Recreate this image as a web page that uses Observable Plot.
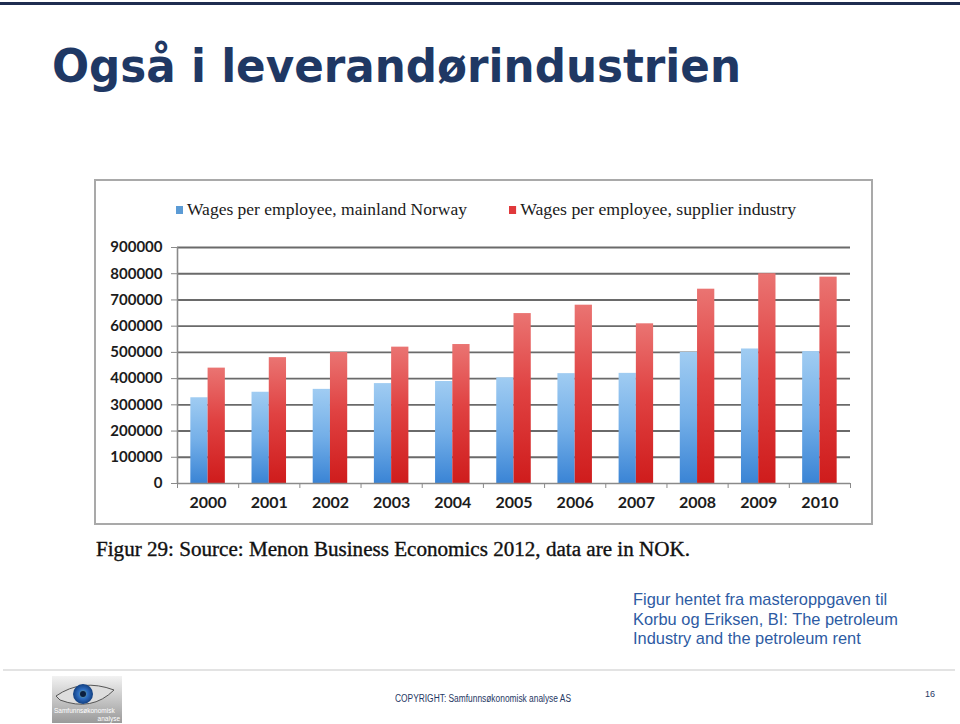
<!DOCTYPE html>
<html>
<head>
<meta charset="utf-8">
<script src="https://cdn.jsdelivr.net/npm/d3@7"></script>
<script src="https://cdn.jsdelivr.net/npm/@observablehq/plot@0.6"></script>
<style>
  html, body { margin: 0; padding: 0; background: #fff; }
  #page { position: relative; width: 960px; height: 724px; overflow: hidden; font-family: "Liberation Sans", Arial, sans-serif; }
  .abs { position: absolute; white-space: nowrap; }
  #topline { left: 0; top: 2px; width: 960px; height: 3px; background: #1f2d50; }
  #title { left: 52px; top: 43px; font-family: "DejaVu Sans", Verdana, sans-serif; font-weight: bold; font-size: 46px; color: #1f3864; transform-origin: 0 0; line-height: 1; }
  #frame { left: 94px; top: 179px; width: 775px; height: 342px; border: 2px solid #a9a9a9; background: #fff; }
  .leg { top: 199px; font-family: "Liberation Serif", "Times New Roman", serif; font-size: 17.5px; color: #1a1a1a; transform-origin: 0 0; }
  .sw { display: inline-block; width: 7px; height: 8px; margin-right: 4px; vertical-align: 1px; }
  #chart { left: 94px; top: 225px; }
  #caption { left: 96px; top: 538px; font-family: "Liberation Serif", "Times New Roman", serif; font-size: 20px; color: #111; transform-origin: 0 0; -webkit-text-stroke: 0.35px #111; }
  #note { left: 633px; top: 590px; font-family: "Liberation Sans", Arial, sans-serif; font-size: 16.4px; line-height: 19.5px; color: #2d5ba3; }
  #footline { left: 3px; top: 669px; width: 952px; height: 2px; background: #e3e3e3; }
  #copy { left: 395px; top: 693px; font-size: 10px; color: #1f3864; transform-origin: 0 0; }
  #pnum { left: 925px; top: 689px; font-size: 9px; color: #1f3864; }
  #logo { left: 52px; top: 676px; }
</style>
</head>
<body>
<div id="page">
  <div id="topline" class="abs"></div>
  <div id="title" class="abs">Også i leverandørindustrien</div>
  <div id="frame" class="abs"></div>
  <div id="leg0" class="abs leg"></div>
  <div id="leg1" class="abs leg"></div>
  <div id="chart" class="abs"></div>
  <div id="caption" class="abs">Figur 29: Source: Menon Business Economics 2012, data are in NOK.</div>
  <div id="note" class="abs">Figur hentet fra masteroppgaven til<br>Korbu og Eriksen, BI: The petroleum<br>Industry and the petroleum rent</div>
  <div id="footline" class="abs"></div>
  <svg id="logo" class="abs" width="70" height="47" viewBox="0 0 70 47">
    <defs>
      <linearGradient id="lg" x1="0" y1="0" x2="0" y2="1">
        <stop offset="0" stop-color="#f2f2f2"/><stop offset="1" stop-color="#9a9a9a"/>
      </linearGradient>
      <radialGradient id="iris"><stop offset="0" stop-color="#9bc35a"/><stop offset="0.45" stop-color="#2f6fc4"/><stop offset="1" stop-color="#123f80"/></radialGradient>
    </defs>
    <rect width="70" height="47" fill="url(#lg)"/>
    <path d="M4 20 Q30 2 62 14 Q40 36 8 24 Z" fill="#ddd" stroke="#555" stroke-width="1"/>
    <circle cx="31" cy="18" r="10" fill="url(#iris)"/>
    <circle cx="31" cy="18" r="3" fill="#0b1f3f"/>
    <text x="2" y="37" font-size="6.5" fill="#fff" font-family="Liberation Sans">Samfunnsøkonomisk</text>
    <text x="68" y="45" font-size="6.5" fill="#fff" text-anchor="end" font-family="Liberation Sans">analyse</text>
  </svg>
  <div id="copy" class="abs">COPYRIGHT: Samfunnsøkonomisk analyse AS</div>
  <div id="pnum" class="abs">16</div>
</div>
<script>
// ---- data ----
const years = [2000, 2001, 2002, 2003, 2004, 2005, 2006, 2007, 2008, 2009, 2010];
const mainlandNorway = [327000, 348000, 359000, 381000, 389000, 403000, 419000, 420000, 500000, 513000, 503000];
const supplierIndustry = [440000, 480000, 500000, 520000, 530000, 648000, 680000, 609000, 741000, 800000, 787000];
const seriesNames = ["Wages per employee, mainland Norway", "Wages per employee, supplier industry"];
const yTicks = [0, 100000, 200000, 300000, 400000, 500000, 600000, 700000, 800000, 900000];

const rows = years.flatMap((yr, i) => [
  {year: yr, series: seriesNames[0], value: mainlandNorway[i]},
  {year: yr, series: seriesNames[1], value: supplierIndustry[i]}
]);
const blueRows = rows.filter(d => d.series === seriesNames[0]);
const redRows = rows.filter(d => d.series === seriesNames[1]);
const half = 0.282; // bar width as a fraction of one year step
const boundaries = years.map(y => y - 0.5).concat([years[years.length - 1] + 0.5]);

// ---- legend ----
const swatch = ["#5b9bd5", "#e0393b"];
[0, 1].forEach(i => {
  const el = document.getElementById("leg" + i);
  el.innerHTML = `<span class="sw" style="background:${swatch[i]}"></span>${seriesNames[i]}`;
  el.style.left = (i === 0 ? 176 : 509) + "px";
});

const chart = Plot.plot({
  width: 778,
  height: 300,
  marginLeft: 83,
  marginRight: 22,
  marginTop: 22,
  marginBottom: 42,
  style: {fontFamily: "Lato, 'Open Sans', sans-serif", fontWeight: "bold", fontSize: "15px", color: "#1c1c1c", background: "transparent"},
  x: {type: "linear", domain: [years[0] - 0.5, years[years.length - 1] + 0.5]},
  y: {domain: [0, 900000]},
  marks: [
    Plot.ruleY(yTicks.slice(1), {stroke: "#6a6a6a", strokeWidth: 1.9}),
    Plot.rectY(blueRows, {x1: d => d.year - half, x2: d => d.year, y: "value", fill: "url(#gradBlue)"}),
    Plot.rectY(redRows, {x1: d => d.year, x2: d => d.year + half, y: "value", fill: "url(#gradRed)"}),
    Plot.ruleY([0], {stroke: "#8a8a8a", strokeWidth: 1.6}),
    Plot.ruleX([years[0] - 0.5], {y1: 0, y2: 900000, stroke: "#8a8a8a", strokeWidth: 1.6}),
    Plot.axisY({ticks: yTicks, tickFormat: d3.format("d"), tickSize: 6, tickPadding: 9, label: null, stroke: "#8a8a8a", fontSize: 15}),
    Plot.axisX({ticks: years, tickFormat: d3.format("d"), tickSize: 0, tickPadding: 13, label: null, fontSize: 16}),
    Plot.axisX({ticks: boundaries, tickFormat: () => "", tickSize: 5, label: null, stroke: "#8a8a8a"})
  ]
});

// gradients for the bars
const ns = "http://www.w3.org/2000/svg";
const defs = document.createElementNS(ns, "defs");
defs.innerHTML = `
  <linearGradient id="gradBlue" x1="0" y1="0" x2="0" y2="1">
    <stop offset="0" stop-color="#a0ccf2"/>
    <stop offset="0.5" stop-color="#74afe8"/>
    <stop offset="1" stop-color="#3a84d5"/>
  </linearGradient>
  <linearGradient id="gradRed" x1="0" y1="0" x2="0" y2="1">
    <stop offset="0" stop-color="#ea7472"/>
    <stop offset="0.45" stop-color="#e04242"/>
    <stop offset="1" stop-color="#cf1c1c"/>
  </linearGradient>`;
chart.insertBefore(defs, chart.firstChild);
document.getElementById("chart").appendChild(chart);

// fit text widths to the reference
function fitWidth(id, target) {
  const el = document.getElementById(id);
  const w = el.getBoundingClientRect().width;
  if (w > 0) el.style.transform = `scaleX(${target / w})`;
}
fitWidth("title", 689);
fitWidth("leg0", 291);
fitWidth("leg1", 287);
fitWidth("caption", 594);
fitWidth("copy", 176);
</script>
</body>
</html>
